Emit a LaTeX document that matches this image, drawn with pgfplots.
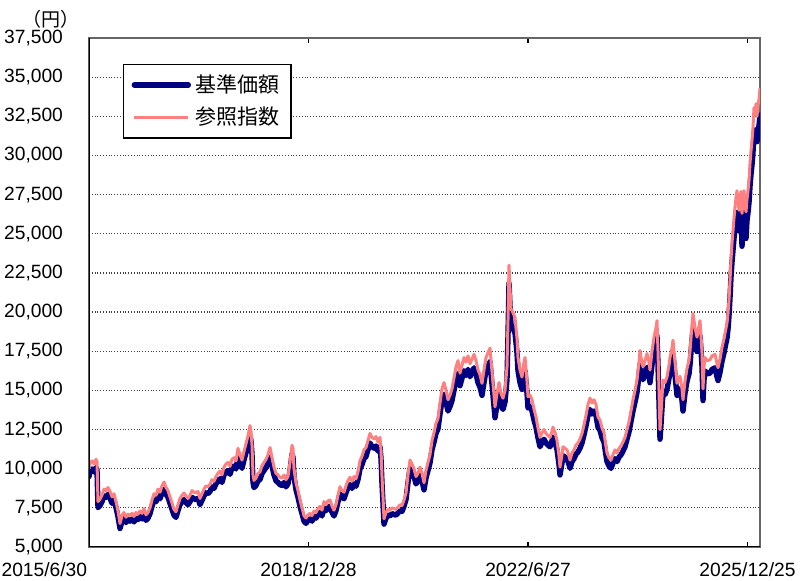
\documentclass[border=0pt]{standalone}
\usepackage{pgfplots}
\usepackage{pgfplotstable}
\pgfplotsset{compat=1.18}
\usepackage{fontspec}
\setmainfont{Liberation Sans}
\newfontfamily\cjk{Noto Sans CJK JP}
\definecolor{navyc}{RGB}{0,0,128}
\definecolor{salmonc}{RGB}{255,128,128}
\pgfplotstableread{
x idx nav
0 10000 9500
1 10350 9830
3 10500 9980
5 10300 9790
7 10600 10070
8 10450 9930
9 7900 7510
11 8050 7650
13 8300 7890
15 8700 8270
17 8600 8170
19 8800 8360
21 8550 8120
23 8200 7790
25 8400 7980
27 7900 7510
29 7300 6940
31 6500 6180
33 7000 6650
35 7200 6840
37 6900 6560
39 7100 6750
41 7000 6650
43 7150 6790
45 6950 6600
47 7200 6840
49 7100 6750
51 7300 6940
53 7150 6790
55 7450 7080
57 7050 6700
59 7200 6840
61 7500 7130
63 8000 7600
65 8400 7980
67 8300 7890
69 8700 8270
71 8500 8080
73 8900 8460
75 9150 8690
77 8800 8360
79 8600 8170
81 8200 7790
83 7800 7410
85 7400 7030
87 7250 6890
89 7700 7320
91 8100 7700
93 8300 7890
95 8450 8030
97 8250 7840
99 8100 7700
101 8300 7890
103 8600 8170
105 8500 8080
107 8450 8030
109 8550 8120
111 8100 7700
113 8400 7980
115 8700 8270
117 8900 8460
119 8850 8410
121 9000 8550
123 9300 8840
125 9200 8740
127 9500 9030
129 9700 9220
131 9850 9360
133 9600 9120
135 10100 9600
137 10300 9790
139 10400 9880
141 10150 9640
143 10600 10070
145 10700 10170
147 10500 9980
149 11300 10740
151 10900 10360
153 10550 10020
155 11100 10550
157 11600 11020
159 12100 11500
161 12750 12110
162 12400 11780
163 11500 10930
164 9600 9120
165 9250 8790
167 9400 8930
169 9700 9220
171 9800 9310
173 10200 9690
175 10400 9880
177 10600 10070
179 10900 10360
181 11350 10780
183 10700 10170
185 10100 9600
187 9700 9220
189 9600 9120
191 9450 8980
193 9400 8930
195 9600 9120
197 9300 8840
199 9500 9030
201 10400 9880
203 11500 10930
204 11300 10740
205 10000 9500
207 9100 8650
209 8600 8170
211 8000 7600
213 7500 7130
215 7000 6650
217 6850 6510
219 7050 6700
221 7150 6790
223 7000 6650
225 7300 6940
227 7200 6840
229 7450 7080
231 7600 7220
233 7350 6980
235 7900 7510
237 7700 7320
239 7950 7550
241 8000 7600
243 7600 7220
245 7350 6980
247 7700 7320
249 8300 7890
251 8850 8410
253 8600 8170
255 8500 8080
257 8900 8460
259 9250 8790
261 9450 8980
263 9200 8740
265 9500 9030
267 9350 8880
269 9800 9310
271 10500 9980
273 10800 10260
275 11200 10640
277 11350 10780
279 11800 11210
281 12250 11640
283 12000 11400
285 11900 11310
287 12050 11450
289 11700 11120
291 12000 11400
292 11200 10640
293 9500 9030
294 8200 7790
295 6800 6460
297 7200 6840
299 7400 7030
301 7350 6980
303 7500 7130
305 7450 7080
307 7400 7030
309 7550 7170
311 7700 7320
313 7650 7270
315 8000 7600
317 8450 8030
319 9600 9120
321 10550 10020
323 10300 9790
325 10000 9500
327 9500 9030
329 9700 9220
331 10100 9600
333 9700 9220
335 9100 8650
337 9900 9410
339 10400 9880
341 10900 10360
343 11800 11210
345 12300 11690
347 12900 12260
349 13200 12540
351 14200 13490
353 15100 14350
355 15500 14730
357 15000 14250
359 14400 13680
361 14700 13970
363 15100 14350
365 15800 15010
367 16500 15680
369 16900 16060
371 16100 15300
373 16600 15770
375 17100 16250
377 16800 15960
379 17200 16340
381 16700 15870
383 17000 16150
385 17300 16440
387 16900 16060
389 16300 15490
391 16000 15200
393 15450 14680
395 16300 15490
397 17100 16250
399 17400 16530
401 17700 16820
403 16200 15390
405 14700 13970
406 13950 13250
408 14800 14060
410 15500 14730
412 14800 14060
414 14500 13780
416 15000 14250
418 16500 15680
419 19500 18530
420 23000 21850
421 21500 20430
422 20200 19190
423 20100 19100
425 19800 18810
426 19650 18670
428 18300 17390
429 17100 16250
431 16300 15490
433 15850 15060
435 16800 15960
436 17100 16250
438 15600 14820
439 14600 13870
441 14700 13970
443 14400 13680
445 13800 13110
447 13300 12640
449 12600 11970
451 12000 11400
453 12300 11690
455 12500 11880
457 12250 11640
459 12100 11500
461 12000 11400
463 12400 11780
464 12650 12020
466 12300 11690
468 11800 11210
470 10800 10260
471 10100 9600
473 10900 10360
474 11400 10830
476 11300 10740
478 11200 10640
480 10800 10260
481 10550 10020
483 11000 10450
485 11200 10640
487 11500 10930
489 11650 11070
491 11900 11310
493 12250 11640
495 12800 12160
497 13400 12730
499 14100 13400
501 14500 13780
503 14200 13490
505 14400 13680
507 14100 13400
509 13300 12640
511 13100 12450
513 12600 11970
515 12300 11690
517 11400 10830
518 11000 10450
520 10700 10170
522 10550 10020
524 10900 10360
526 11200 10640
528 11000 10450
530 11300 10740
532 11450 10880
534 11700 11120
536 12000 11400
538 12500 11880
540 13000 12350
542 13700 13020
544 14400 13680
546 15000 14250
548 15650 14870
550 16800 15960
551 17550 16670
552 17100 16250
554 16500 15680
556 16900 16060
558 17350 16480
560 16800 15960
561 16300 15490
563 17500 16630
565 18400 17480
567 19000 18050
568 19450 18480
569 17500 16630
570 15000 14250
571 12500 11880
572 13500 12830
574 15650 14870
576 15500 14730
578 15850 15060
580 16600 15770
581 17100 16250
583 17700 16820
584 18200 17290
586 16800 15960
588 15450 14680
590 15800 15010
591 15900 15110
593 15100 14350
594 14400 13680
596 15600 14820
598 16400 15580
600 16900 16060
601 17500 16630
603 19200 18240
604 19900 18910
606 19000 18050
608 18400 17480
610 19100 18150
611 19450 18480
612 18500 17580
613 17400 16530
614 15100 14350
615 16500 15680
616 17100 16250
618 16900 16060
621 16950 16100
623 17200 16340
626 17300 16440
628 16700 15870
629 16450 15630
631 17000 16150
633 17750 16860
635 18300 17390
636 18650 17720
638 19300 18340
639 19900 18910
640 20800 19760
641 22000 20900
642 23400 22230
643 24400 23180
644 25200 23940
645 26000 24700
646 26700 25370
647 27300 25940
648 27750 26360
649 27100 25750
650 26500 25180
651 27300 25940
652 27700 26320
653 26300 24200
654 27100 25750
655 27750 26360
656 26800 25460
657 26400 24700
658 27200 25840
659 27750 26360
660 28400 26980
661 29500 28030
662 30300 28790
663 30950 29400
664 31800 30210
665 33050 31400
666 32700 31070
667 33300 31640
668 32500 30880
669 33200 31540
670 33600 31920
671 34300 32590
}\fund
\begin{document}
\begin{tikzpicture}
\path[use as bounding box] (-44.5pt,-17pt) rectangle (356.5pt,273.5pt);
\begin{axis}[
  scale only axis,
  width=335.5pt, height=254.5pt,
  xmin=0, xmax=671, ymin=5000, ymax=37500,
  axis line style={draw=gray!80!black, line width=0.9pt},
  xtick={0,219.5,439,658.5},
  xticklabels={\makebox[0pt][r]{2015/6/30\hspace{1pt}},2018/12/28,2022/6/27,2025/12/25},
  xtick style={black, line width=0.6pt},
  major tick length=2.5pt,
  ytick distance=2500,
  ytick style={draw=none},
  scaled y ticks=false,
  ymajorgrids,
  grid style={densely dotted, black!75, line width=0.6pt},
  /pgf/number format/fixed,
  /pgf/number format/1000 sep={,},
  /pgf/number format/assume math mode=true,
  yticklabel style={font=\fontsize{9.6}{11}\selectfont, xshift=-9.5pt},
  xticklabel style={font=\fontsize{9.6}{11}\selectfont, yshift=-4.5pt},
  legend style={at={(0.0507,0.949)}, anchor=north west, draw=black, line width=0.6pt,
    font=\cjk\fontsize{10.5}{12}\selectfont, inner xsep=4pt, inner ysep=3pt,
    row sep=2pt, cells={anchor=west}},
  legend image code/.code={\draw[#1] (0pt,0pt) -- (27pt,0pt);},
  legend cell align=left,
]
\addplot[navyc, line width=2.7pt, line join=round, line cap=round] table[x=x, y=nav] {\fund};
\addlegendentry{基準価額}
\addplot[salmonc, line width=1.5pt, line join=round] table[x=x, y=idx] {\fund};
\addlegendentry{参照指数}
\draw[black, line width=0.9pt] (rel axis cs:0,1) -- (rel axis cs:0,0) -- (rel axis cs:1,0);
\end{axis}
\node[font=\cjk\fontsize{9.5}{10}\selectfont] at (-19pt,264pt) {（円）};
\end{tikzpicture}
\end{document}
